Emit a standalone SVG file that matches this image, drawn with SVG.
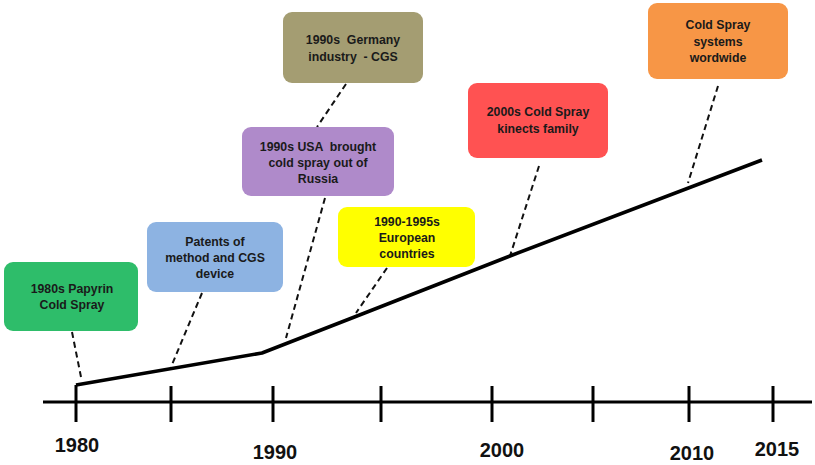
<svg xmlns="http://www.w3.org/2000/svg" width="815" height="465" viewBox="0 0 815 465">
<style>
.box{stroke:none}
.lbl{font-family:"Liberation Sans",Arial,sans-serif;font-weight:bold;font-size:12.3px;fill:#1a1a1a;text-anchor:middle;white-space:pre}
.yr{font-family:"Liberation Sans",Arial,sans-serif;font-weight:bold;font-size:20px;fill:#111;text-anchor:middle}
.dash{stroke:#111;stroke-width:2;stroke-dasharray:6,4;fill:none}
.axis{stroke:#000;stroke-width:3;fill:none}
</style>
<rect width="815" height="465" fill="#fff"/>
<g id="connectors">
<line class="dash" x1="72" y1="332" x2="81" y2="377"/>
<line class="dash" x1="202" y1="293" x2="171" y2="367"/>
<line class="dash" x1="325" y1="198" x2="286" y2="338"/>
<line class="dash" x1="346" y1="84" x2="317" y2="127"/>
<line class="dash" x1="387" y1="268" x2="356" y2="313"/>
<line class="dash" x1="539" y1="166" x2="510" y2="256"/>
<line class="dash" x1="718" y1="86" x2="688" y2="183"/>
</g>
<g id="axis">
<line class="axis" x1="43" y1="402" x2="812" y2="402"/>
<g stroke="#000" stroke-width="3">
<line x1="76" y1="385" x2="76" y2="422"/>
<line x1="171" y1="386" x2="171" y2="422"/>
<line x1="273" y1="386" x2="273" y2="422"/>
<line x1="381" y1="386" x2="381" y2="422"/>
<line x1="492" y1="386" x2="492" y2="422"/>
<line x1="593" y1="386" x2="593" y2="422"/>
<line x1="689" y1="386" x2="689" y2="422"/>
<line x1="773" y1="386" x2="773" y2="422"/>
</g>
<polyline fill="none" stroke="#000" stroke-width="3.5" stroke-linejoin="round" points="76,385 262,353 357,316 510,256 762,160"/>
<text class="yr" x="77" y="452">1980</text>
<text class="yr" x="275" y="459">1990</text>
<text class="yr" x="502" y="457">2000</text>
<text class="yr" x="692" y="460">2010</text>
<text class="yr" x="777" y="456">2015</text>
</g>
<g id="n1980">
<rect class="box" x="4" y="262" width="134" height="69" rx="9" fill="#2EBD6A"/>
<text class="lbl" x="72" y="293">1980s Papyrin</text>
<text class="lbl" x="72" y="309">Cold Spray</text>
</g>
<g id="patents">
<rect class="box" x="147" y="222" width="136" height="70" rx="9" fill="#8DB3E2"/>
<text class="lbl" x="215" y="246">Patents of</text>
<text class="lbl" x="215" y="262">method and CGS</text>
<text class="lbl" x="215" y="278">device</text>
</g>
<g id="usa">
<rect class="box" x="242" y="127" width="152" height="69" rx="9" fill="#AF8ACA"/>
<text class="lbl" x="318" y="151">1990s USA  brought</text>
<text class="lbl" x="318" y="167">cold spray out of</text>
<text class="lbl" x="318" y="183">Russia</text>
</g>
<g id="germany">
<rect class="box" x="283" y="12" width="140" height="71" rx="9" fill="#A49D72"/>
<text class="lbl" x="353" y="44">1990s  Germany</text>
<text class="lbl" x="353" y="61">industry  - CGS</text>
</g>
<g id="europe">
<rect class="box" x="338" y="207" width="137" height="60" rx="9" fill="#FFFF00"/>
<text class="lbl" x="407" y="226">1990-1995s</text>
<text class="lbl" x="407" y="242">European</text>
<text class="lbl" x="407" y="258">countries</text>
</g>
<g id="kinetics">
<rect class="box" x="468" y="83" width="140" height="75" rx="9" fill="#FF5252"/>
<text class="lbl" x="538" y="116">2000s Cold Spray</text>
<text class="lbl" x="538" y="133">kinects family</text>
</g>
<g id="worldwide">
<rect class="box" x="648" y="3" width="140" height="76" rx="9" fill="#F79646"/>
<text class="lbl" x="718" y="29">Cold Spray</text>
<text class="lbl" x="718" y="46">systems</text>
<text class="lbl" x="718" y="62">wordwide</text>
</g>
</svg>
